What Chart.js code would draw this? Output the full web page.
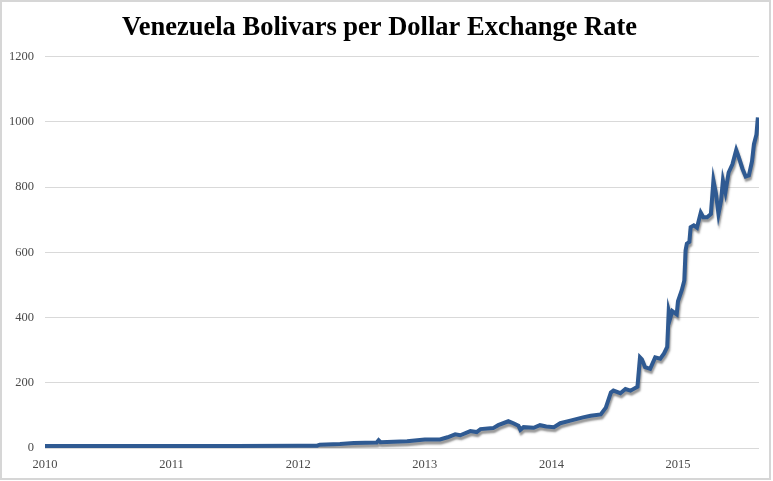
<!DOCTYPE html>
<html>
<head>
<meta charset="utf-8">
<script src="https://cdn.jsdelivr.net/npm/chart.js@4/dist/chart.umd.min.js"></script>
<style>
  html, body { margin: 0; padding: 0; background: #fff; }
  #wrap { position: relative; width: 773px; height: 481px; }
  #frame { position: absolute; left: 0; top: 0; width: 771px; height: 480px;
           box-sizing: border-box; border: 2px solid #d6d6d6; pointer-events: none; }
</style>
</head>
<body>
<div id="wrap">
  <canvas id="rateChart" width="773" height="481"></canvas>
  <div id="frame"></div>
</div>
<script>
// dates as fractional years, rates
const dates = [
  2010.00, 2010.50, 2011.00, 2011.50, 2012.00, 2012.15, 2012.17, 2012.33, 2012.44, 2012.62,
  2012.635, 2012.65, 2012.86, 2013.00, 2013.12, 2013.18, 2013.24, 2013.28, 2013.36, 2013.41,
  2013.44, 2013.54, 2013.58, 2013.66, 2013.70, 2013.74, 2013.755, 2013.78, 2013.86, 2013.91,
  2013.96, 2014.02, 2014.07, 2014.15, 2014.25, 2014.31, 2014.39, 2014.43, 2014.47, 2014.49,
  2014.545, 2014.585, 2014.625, 2014.68, 2014.70, 2014.715, 2014.74, 2014.78, 2014.82, 2014.86,
  2014.89, 2014.915, 2014.927, 2014.94, 2014.955, 2014.99, 2015.00, 2015.03, 2015.05, 2015.06,
  2015.07, 2015.09, 2015.10, 2015.125, 2015.15, 2015.18, 2015.20, 2015.23, 2015.26, 2015.28,
  2015.30, 2015.32, 2015.34, 2015.355, 2015.375, 2015.40, 2015.43, 2015.46, 2015.48, 2015.51,
  2015.535, 2015.56, 2015.585, 2015.60, 2015.62, 2015.631
];
const rates = [
  6, 6, 6, 6.5, 7, 7, 10, 12, 15, 17,
  24, 18, 21, 26, 26, 33, 42, 39, 52, 49,
  58, 61, 70, 82, 76, 68, 56, 64, 62, 70,
  66, 64, 76, 84, 94, 99, 103, 124, 170, 176,
  168, 181, 176, 188, 278, 272, 248, 243, 278, 274,
  290, 310, 420, 400, 420, 410, 450, 484, 514, 606,
  627, 632, 677, 683, 676, 722, 708, 708, 718, 820,
  780, 718, 758, 820, 785, 845, 870, 914, 892, 856,
  833, 836, 880, 932, 962, 1014
];
const yearTicks = [2010, 2011, 2012, 2013, 2014, 2015];

const points = dates.map((d, i) => ({x: d, y: rates[i]}));

// soft grey drop shadow under the line, like the original
const lineShadow = {
    id: 'lineShadow',
    beforeDatasetDraw(chart) {
        const ctx = chart.ctx;
        ctx.save();
        ctx.shadowColor = 'rgba(80,80,80,0.6)';
        ctx.shadowBlur = 2;
        ctx.shadowOffsetX = 1;
        ctx.shadowOffsetY = 3;
    },
    afterDatasetDraw(chart) {
        chart.ctx.restore();
    }
};

const serif = '"Liberation Serif", "Times New Roman", serif';

const ctx = document.getElementById('rateChart').getContext('2d');
const rateChart = new Chart(ctx, {
    type: 'line',
    data: {
        datasets: [{
            data: points,
            borderColor: '#2f5a92',
            borderWidth: 4,
            pointRadius: 0,
            tension: 0,
            fill: false
        }]
    },
    options: {
        responsive: false,
        animation: false,
        layout: {padding: {left: 0, right: 14, top: 0, bottom: 0}},
        plugins: {
            legend: {display: false},
            tooltip: {enabled: false},
            title: {
                display: true,
                text: 'Venezuela Bolivars per Dollar Exchange Rate',
                color: '#000',
                font: {family: serif, size: 26.5, weight: 'bold', lineHeight: 1.2},
                padding: {top: 12, bottom: 13}
            }
        },
        scales: {
            x: {
                type: 'linear',
                min: 2010,
                max: 2015.64,
                afterBuildTicks(scale) {
                    scale.ticks = yearTicks.map(v => ({value: v}));
                },
                afterFit(scale) { scale.height = 33; },
                grid: {display: false, drawTicks: false},
                border: {display: false},
                ticks: {
                    color: '#4a4a4a',
                    padding: 9,
                    maxRotation: 0,
                    font: {family: serif, size: 12.5},
                    callback: v => String(v)
                }
            },
            y: {
                min: 0,
                max: 1200,
                afterFit(scale) { scale.width = 45; },
                grid: {color: '#d9d9d9', lineWidth: 1, drawTicks: false},
                border: {display: false},
                ticks: {
                    stepSize: 200,
                    color: '#4a4a4a',
                    padding: 11,
                    font: {family: serif, size: 12.5},
                    callback: v => String(v)
                }
            }
        }
    },
    plugins: [lineShadow]
});
</script>
</body>
</html>
